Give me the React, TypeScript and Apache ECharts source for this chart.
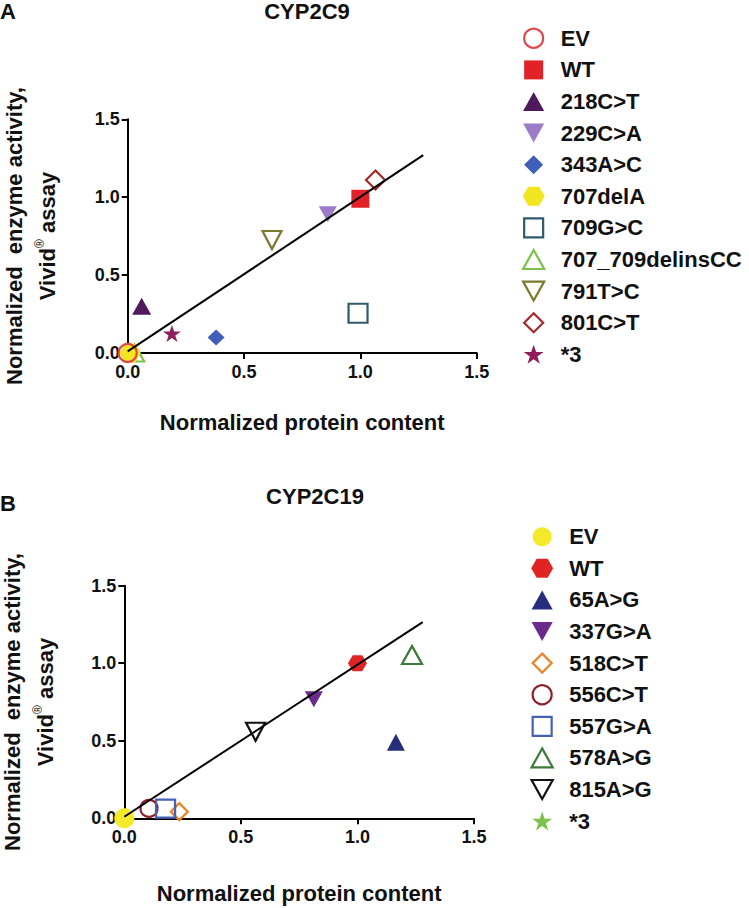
import React, { useEffect, useRef } from 'react';
import * as echarts from 'echarts';

const FONT = "'Liberation Sans', Arial, Helvetica, sans-serif";

// ---------- Panel A: CYP2C9 ----------
const variantsA = ['EV', 'WT', '218C>T', '229C>A', '343A>C', '707delA', '709G>C', '707_709delinsCC', '791T>C', '801C>T', '*3'];
const proteinA = [0.0, 1.0, 0.06, 0.86, 0.38, 0.01, 0.99, 0.03, 0.62, 1.065, 0.19];
const activityA = [0.0, 0.99, 0.3, 0.89, 0.1, 0.0, 0.255, 0.0, 0.725, 1.11, 0.125];
const fitAx = [0.0, 1.27];
const fitAy = [0.01, 1.27];

// ---------- Panel B: CYP2C19 ----------
const variantsB = ['EV', 'WT', '65A>G', '337G>A', '518C>T', '556C>T', '557G>A', '578A>G', '815A>G', '*3'];
const proteinB = [0.0, 1.0, 1.165, 0.813, 0.236, 0.106, 0.177, 1.234, 0.563, 0.0];
const activityB = [0.0, 1.0, 0.49, 0.767, 0.043, 0.064, 0.062, 1.053, 0.558, 0.0];
const fitBx = [0.0, 1.28];
const fitBy = [0.01, 1.265];

const tickLabels = ['0.0', '0.5', '1.0', '1.5'];

// ---------- marker shapes & styles ----------
const SHAPES: Record<string, string> = {
  circle: 'circle',
  square: 'path://M0,0L10,0L10,10L0,10Z',
  up: 'path://M5,0L10,9L0,9Z',
  down: 'path://M0,0L10,0L5,9Z',
  diamond: 'path://M5,0L10,5L5,10L0,5Z',
  hexagon: 'path://M0,4.33L2.5,0L7.5,0L10,4.33L7.5,8.66L2.5,8.66Z',
  star: 'path://M5,0L6.18,3.45L9.76,3.45L6.79,5.59L7.94,9.05L5,6.91L2.06,9.05L3.21,5.59L0.24,3.45L3.82,3.45Z',
};

type Sty = { shape: string; size: number[]; color: string; hollow: boolean; z: number };

const stylesA: Sty[] = [
  { shape: 'circle', size: [18, 18], color: '#E0474C', hollow: true, z: 5 },
  { shape: 'square', size: [18, 18], color: '#E32228', hollow: false, z: 3 },
  { shape: 'up', size: [19, 17], color: '#4E1A5C', hollow: false, z: 3 },
  { shape: 'down', size: [18, 16], color: '#9C7BC9', hollow: false, z: 3 },
  { shape: 'diamond', size: [17, 16], color: '#3F5FB8', hollow: false, z: 3 },
  { shape: 'hexagon', size: [21, 19], color: '#F2E620', hollow: false, z: 4 },
  { shape: 'square', size: [19, 19], color: '#2E5A6E', hollow: true, z: 3 },
  { shape: 'up', size: [19, 17], color: '#7DC24B', hollow: true, z: 2 },
  { shape: 'down', size: [19, 18], color: '#7B7A2E', hollow: true, z: 3 },
  { shape: 'diamond', size: [19, 19], color: '#A52A2A', hollow: true, z: 3 },
  { shape: 'star', size: [18, 17], color: '#8E1F5C', hollow: false, z: 3 },
];

const stylesB: Sty[] = [
  { shape: 'circle', size: [20, 20], color: '#F4EA2A', hollow: false, z: 4 },
  { shape: 'hexagon', size: [19, 16], color: '#E02424', hollow: false, z: 3 },
  { shape: 'up', size: [18, 17], color: '#262D7A', hollow: false, z: 3 },
  { shape: 'down', size: [18, 16], color: '#6A2A8E', hollow: false, z: 3 },
  { shape: 'diamond', size: [17, 17], color: '#E8852A', hollow: true, z: 3 },
  { shape: 'circle', size: [17, 17], color: '#8E1F2A', hollow: true, z: 3 },
  { shape: 'square', size: [19, 18], color: '#4460B8', hollow: true, z: 3 },
  { shape: 'up', size: [20, 18], color: '#3D7A3A', hollow: true, z: 3 },
  { shape: 'down', size: [19, 18], color: '#111111', hollow: true, z: 3 },
  { shape: 'star', size: [16, 15], color: '#7DC24B', hollow: false, z: 2 },
];

const itemStyleOf = (s: Sty) =>
  s.hollow
    ? { color: 'rgba(255,255,255,0)', borderColor: s.color, borderWidth: 2.2, opacity: 1 }
    : { color: s.color, borderColor: s.color, borderWidth: 0, opacity: 1 };

function scatterSeries(prefix: string, names: string[], xs: number[], ys: number[], styles: Sty[], idx: number) {
  return names.map((n, i) => ({
    name: prefix + n,
    type: 'scatter',
    xAxisIndex: idx,
    yAxisIndex: idx,
    symbol: SHAPES[styles[i].shape],
    symbolSize: styles[i].size,
    itemStyle: itemStyleOf(styles[i]),
    z: styles[i].z,
    clip: false,
    data: [[xs[i], ys[i]]],
  }));
}

function legendData(prefix: string, names: string[], styles: Sty[]) {
  return names.map((n, i) => ({
    name: prefix + n,
    icon: SHAPES[styles[i].shape],
    itemStyle: itemStyleOf(styles[i]),
  }));
}

const labelFmt = (v: number) => tickLabels[Math.round(v / 0.5)] ?? v.toFixed(1);

const axisCommon = {
  type: 'value',
  min: 0,
  max: 1.5,
  interval: 0.5,
  axisLine: { show: true, onZero: false, lineStyle: { color: '#000', width: 2 } },
  axisTick: { show: true, length: 6, inside: false, lineStyle: { color: '#000', width: 2 } },
  splitLine: { show: false },
};

const textBase = { fontFamily: FONT, fontWeight: 'bold', color: '#111' };

function xAxis(idx: number, gap: number) {
  return {
    ...axisCommon,
    gridIndex: idx,
    name: 'Normalized protein content',
    nameLocation: 'middle',
    nameGap: gap,
    nameTextStyle: { ...textBase, fontSize: 22 },
    axisLabel: { ...textBase, fontSize: 18, margin: 10, formatter: labelFmt },
  };
}

function yAxis(idx: number) {
  return {
    ...axisCommon,
    gridIndex: idx,
    axisLabel: { ...textBase, fontSize: 18, margin: 8, formatter: labelFmt },
  };
}

function legend(prefix: string, names: string[], styles: Sty[], left: number, top: number) {
  return {
    orient: 'vertical',
    left,
    top,
    padding: 0,
    itemWidth: 44,
    itemHeight: 19,
    itemGap: 9.6,
    selectedMode: false,
    formatter: (n: string) => n.slice(2),
    textStyle: { ...textBase, fontSize: 22, lineHeight: 19 },
    data: legendData(prefix, names, styles),
  };
}

function titleText(text: string, x: number, y: number, align: string) {
  return {
    type: 'text',
    x,
    y,
    style: { text, fontSize: 22, fontWeight: 'bold', fontFamily: FONT, fill: '#111', align, verticalAlign: 'middle' },
  };
}

function yTitle(x1: number, x2: number, y: number) {
  return [
    {
      type: 'text',
      x: x1,
      y,
      rotation: Math.PI / 2,
      style: {
        text: 'Normalized  enzyme activity,',
        fontSize: 22,
        fontWeight: 'bold',
        fontFamily: FONT,
        fill: '#111',
        align: 'center',
        verticalAlign: 'middle',
      },
    },
    {
      type: 'text',
      x: x2,
      y,
      rotation: Math.PI / 2,
      style: {
        text: '{m|Vivid}{s|®}{m| assay}',
        align: 'center',
        verticalAlign: 'middle',
        rich: {
          m: { fontSize: 22, fontWeight: 'bold', fontFamily: FONT, fill: '#111', lineHeight: 26 },
          s: { fontSize: 12, fontWeight: 'normal', fontFamily: FONT, fill: '#111', verticalAlign: 'top', lineHeight: 26 },
        },
      },
    },
  ];
}

export default function App() {
  const ref = useRef<HTMLDivElement>(null);
  useEffect(() => {
    if (!ref.current) return;
    const chart = echarts.init(ref.current, undefined, { renderer: 'svg' });
    const option: any = {
      animation: false,
      backgroundColor: '#fff',
      grid: [
        { left: 127.7, top: 119.3, width: 349, height: 233.7 },
        { left: 124.3, top: 585.7, width: 349.7, height: 232.6 },
      ],
      xAxis: [xAxis(0, 58), xAxis(1, 64)],
      yAxis: [yAxis(0), yAxis(1)],
      legend: [
        legend('A#', variantsA, stylesA, 522, 27.3),
        legend('B#', variantsB, stylesB, 530.5, 525.7),
      ],
      graphic: [
        titleText('A', 0, 11, 'left'),
        titleText('CYP2C9', 307, 11, 'center'),
        titleText('B', 0, 503, 'left'),
        titleText('CYP2C19', 315, 496, 'center'),
        ...yTitle(14, 47, 236),
        ...yTitle(12.5, 45, 702),
      ],
      series: [
        ...scatterSeries('A#', variantsA, proteinA, activityA, stylesA, 0),
        {
          name: 'fitA',
          type: 'line',
          xAxisIndex: 0,
          yAxisIndex: 0,
          symbol: 'none',
          z: 6,
          lineStyle: { color: '#000', width: 2 },
          data: fitAx.map((x, i) => [x, fitAy[i]]),
        },
        ...scatterSeries('B#', variantsB, proteinB, activityB, stylesB, 1),
        {
          name: 'fitB',
          type: 'line',
          xAxisIndex: 1,
          yAxisIndex: 1,
          symbol: 'none',
          z: 6,
          lineStyle: { color: '#000', width: 2 },
          data: fitBx.map((x, i) => [x, fitBy[i]]),
        },
      ],
    };
    chart.setOption(option);
    return () => chart.dispose();
  }, []);
  return <div ref={ref} style={{ position: 'absolute', left: 0, top: 0, width: 749, height: 908 }} />;
}
